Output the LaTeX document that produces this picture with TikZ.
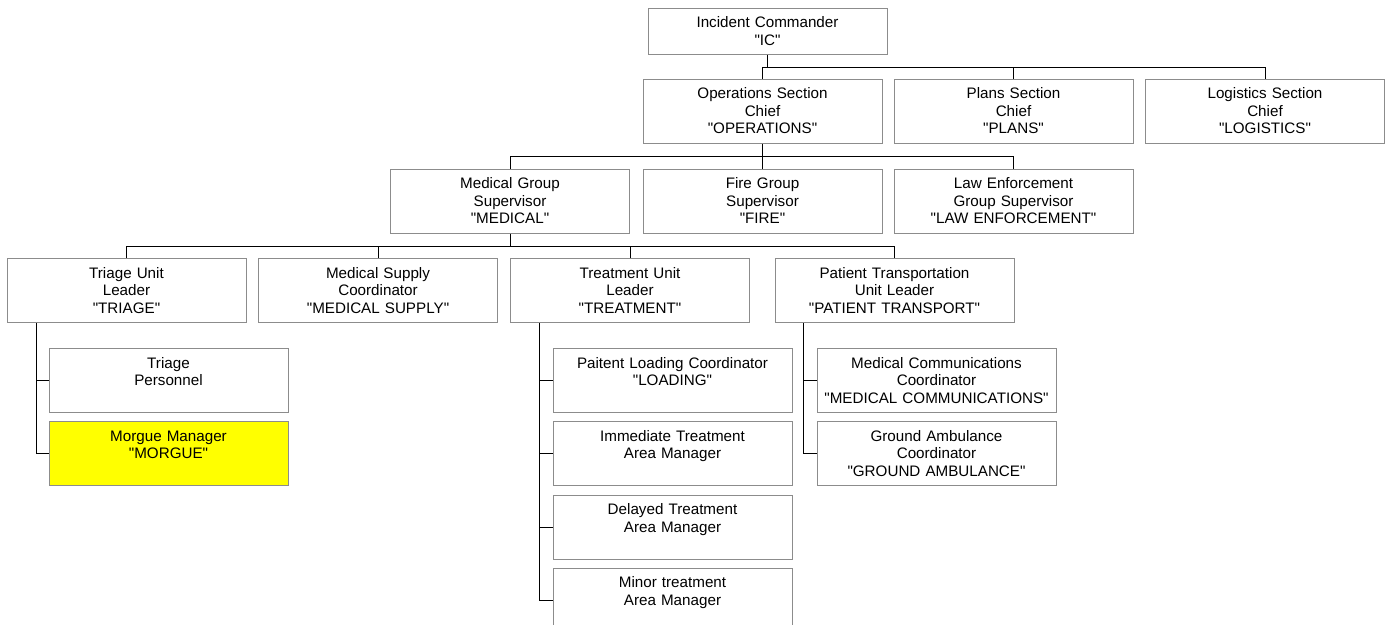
\documentclass[tikz,border=0pt]{standalone}
\usepackage{fontspec}
\setmainfont{Liberation Sans}[Ligatures=TeXOff]
\usepackage{tikz}
\definecolor{boxgray}{RGB}{140,140,140}
\definecolor{morgueyellow}{RGB}{255,255,0}
\tikzset{
	unitbox/.style={draw=boxgray,line width=1pt,minimum width=239pt,minimum height=64pt,inner sep=0pt,
		text width=239pt,align=center,font=\fontsize{15.2}{17.7}\selectfont,text height=12pt,text depth=37pt},
	link/.style={line width=1pt,black}
}

\begin{document}
\begin{tikzpicture}[x=1pt,y=-1pt]
	\useasboundingbox (0,0) rectangle (1387,624);
	% command and sections
	\node[unitbox,minimum height=46pt,text depth=19pt] (ic) at (767.5,31) {Incident Commander\\"IC"};
	\node[unitbox] (ops) at (762.5,111) {Operations Section\\Chief\\"OPERATIONS"};
	\node[unitbox] (plans) at (1013.5,111) {Plans Section\\Chief\\"PLANS"};
	\node[unitbox] (logs) at (1265,111) {Logistics Section\\Chief\\"LOGISTICS"};
	% groups
	\node[unitbox] (medical) at (510,201) {Medical Group\\Supervisor\\"MEDICAL"};
	\node[unitbox] (fire) at (762.5,201) {Fire Group\\Supervisor\\"FIRE"};
	\node[unitbox] (law) at (1013.5,201) {Law Enforcement\\Group Supervisor\\"LAW ENFORCEMENT"};
	% units
	\node[unitbox] (triage) at (126.5,290.5) {Triage Unit\\Leader\\"TRIAGE"};
	\node[unitbox] (supply) at (378,290.5) {Medical Supply\\Coordinator\\"MEDICAL SUPPLY"};
	\node[unitbox] (treat) at (630,290.5) {Treatment Unit\\Leader\\"TREATMENT"};
	\node[unitbox] (transp) at (894.5,290.5) {Patient Transportation\\Unit Leader\\"PATIENT TRANSPORT"};
	% under triage
	\node[unitbox] (personnel) at (168.5,380.5) {Triage\\Personnel};
	\node[unitbox,fill=morgueyellow] (morgue) at (168.5,453.5) {Morgue Manager\\"MORGUE"};
	% under treatment
	\node[unitbox] (loading) at (672.5,380.5) {Paitent Loading Coordinator\\"LOADING"};
	\node[unitbox] (immed) at (672.5,453.5) {Immediate Treatment\\Area Manager};
	\node[unitbox] (delayed) at (672.5,527) {Delayed Treatment\\Area Manager};
	\node[unitbox] (minor) at (672.5,600) {Minor treatment\\Area Manager};
	% under transport
	\node[unitbox] (medcomm) at (936.5,380.5) {Medical Communications\\Coordinator\\"MEDICAL COMMUNICATIONS"};
	\node[unitbox] (ground) at (936.5,453.5) {Ground Ambulance\\Coordinator\\"GROUND AMBULANCE"};
	% connectors
	\draw[link] (ic.south) -- ++(0,13) coordinate (icbar);
	\draw[link] (ops.north) |- (icbar) -| (logs.north);
	\draw[link] (plans.north) -- (plans.north |- icbar);
	\draw[link] (ops.south) -- ++(0,13) coordinate (opsbar);
	\draw[link] (medical.north) |- (opsbar) -| (law.north);
	\draw[link] (fire.north) -- (opsbar);
	\draw[link] (medical.south) -- ++(0,13) coordinate (medbar);
	\draw[link] (triage.north) |- (medbar) -| (transp.north);
	\draw[link] (supply.north) -- (supply.north |- medbar);
	\draw[link] (treat.north) -- (treat.north |- medbar);
	\coordinate (trispine) at ([xshift=30pt]triage.south west);
	\draw[link] (trispine) |- (personnel.west);
	\draw[link] (trispine) |- (morgue.west);
	\coordinate (trtspine) at ([xshift=29pt]treat.south west);
	\foreach \n in {loading,immed,delayed,minor}
		\draw[link] (trtspine) |- (\n.west);
	\coordinate (tpspine) at ([xshift=29pt]transp.south west);
	\draw[link] (tpspine) |- (medcomm.west);
	\draw[link] (tpspine) |- (ground.west);
\end{tikzpicture}
\end{document}
